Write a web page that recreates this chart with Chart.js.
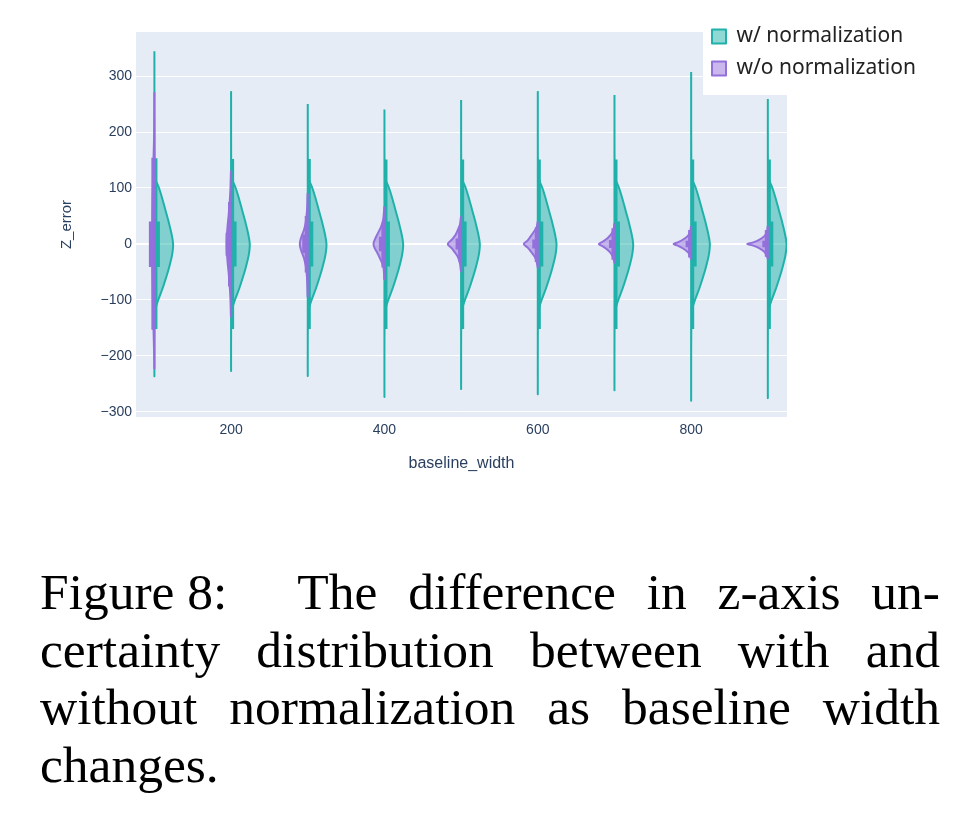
<!DOCTYPE html>
<html>
<head>
<meta charset="utf-8">
<script src="https://cdn.jsdelivr.net/npm/chart.js@4.4.1/dist/chart.umd.min.js"></script>
<style>
html,body{margin:0;padding:0;background:#fff;}
#wrap{position:relative;width:974px;height:816px;overflow:hidden;}
#c{position:absolute;left:0;top:0;}
.cap{position:absolute;left:40px;width:900px;font-family:"Liberation Serif","DejaVu Serif",serif;font-size:51.5px;line-height:57.7px;color:#000;}
.j{text-align:justify;text-align-last:justify;}
.nb{display:inline-block;}
</style>
</head>
<body>
<div id="wrap">
<canvas id="c" width="974" height="520"></canvas>
<div class="cap j" style="top:563px"><span class="nb">Figure&nbsp;8:</span><span class="nb" style="width:40px"></span> The difference in z-axis un-</div>
<div class="cap j" style="top:621px">certainty distribution between with and</div>
<div class="cap j" style="top:678px">without normalization as baseline width</div>
<div class="cap" style="top:736px">changes.</div>
</div>
<script>
// ---------- data ----------
const baselineWidths = [100, 200, 300, 400, 500, 600, 700, 800, 900];
const seriesNames = ['w/ normalization', 'w/o normalization'];
const xTickValues = [200, 400, 600, 800];
const yTickValues = [-300, -200, -100, 0, 100, 200, 300];
const xTitle = 'baseline_width';
const yTitle = 'Z_error';

// w/ normalization (right half of each violin)
const withMax   = [344, 273, 250, 240, 257, 273, 266, 307, 259];
const withUpper = [153, 152, 152, 151, 151, 151, 151, 151, 151];
const withQ3    = [40, 40, 40, 40, 40, 40, 40, 40, 40];
const withQ1    = [-41, -40, -40, -40, -40, -40, -40, -40, -40];
const withLower = [-152, -152, -152, -152, -152, -152, -152, -152, -152];
const withMin   = [-232, -223, -232, -269, -255, -264, -257, -275, -271];
const withKdeZ  = [125, 115, 100, 80, 60, 40, 20, 0, -20, -40, -60, -80, -100, -115, -125];
const withKdeW  = [0.3, 1.5, 6, 10.5, 14.5, 18.5, 22, 24.4, 23, 19.5, 15.3, 10.5, 5, 1.5, 0.3];

// w/o normalization (left half of each violin)
const withoutMax   = [271, 131, 90, 66, 49, 40, 36, 31, 32];
const withoutUpper = [154, 75, 50, 38, 31, 30, 28, 25, 25];
const withoutQ3    = [40, 20, 17, 13, 10, 8, 7, 6, 6];
const withoutQ1    = [-41, -21, -16, -13, -10, -8, -7, -6, -6];
const withoutLower = [-153, -76, -51, -42, -31, -32, -28, -24, -23];
const withoutMin   = [-221, -130, -94, -63, -49, -42, -33, -27, -26];
const withoutKdeZ = [
  [200, 150, 100, 50, 0, -50, -100, -150, -200],
  [130, 100, 75, 50, 25, 0, -25, -50, -75, -100, -130],
  [90, 60, 40, 25, 12, 0, -12, -25, -40, -60, -94],
  [66, 45, 31, 19, 8, 0, -8, -14, -26, -40, -63],
  [49, 35, 25, 16, 8, 0, -8, -14, -23, -35, -49],
  [40, 30, 24, 13, 6, 0, -6, -11, -23, -32, -42],
  [36, 26, 18, 10, 4, 0, -4, -10, -18, -26, -33],
  [31, 22, 15, 8, 3, 0, -3, -8, -15, -22, -27],
  [32, 22, 14, 7, 2.5, 0, -2.5, -7, -14, -22, -26]
];
const withoutKdeW = [
  [0.3, 1.2, 2, 2.6, 2.8, 2.6, 2, 1.2, 0.3],
  [0.2, 0.8, 1.8, 3.3, 5, 5.8, 5, 3.3, 1.8, 0.8, 0.2],
  [0.2, 1, 2.5, 5, 8.5, 10.4, 8.5, 5, 2.5, 1, 0.2],
  [0.2, 1.5, 4.3, 8.7, 12.5, 14.3, 12.5, 10, 5.7, 1.5, 0.2],
  [0.2, 1.5, 4.3, 7.4, 12, 17.4, 12, 8.7, 4.3, 1.5, 0.2],
  [0.2, 1.5, 4, 9.6, 13.5, 18.3, 13.5, 10.4, 4, 1.5, 0.2],
  [0.2, 1.2, 4, 9.5, 15.5, 20.4, 15.5, 9.5, 4, 1.2, 0.2],
  [0.2, 1.2, 4, 10.5, 17.5, 23, 17.5, 10.5, 4, 1.2, 0.2],
  [0.2, 1.2, 4.5, 12, 20, 27, 20, 12, 4.5, 1.2, 0.2]
];

// ---------- styles ----------
const TEAL = '#20B2AA', TEAL_FILL = 'rgba(32,178,170,0.5)';
const PURPLE = '#9370DB', PURPLE_FILL = 'rgba(147,112,219,0.5)';
const WHISKER_OFF = 2.0, BOX_OFF = 3.6;   // x-offsets (axis units) of the inner box pieces
const TICK_COLOR = '#2a3f5f';

function violinData(c, side, zs, ws, top, bottom) {
  const pts = [{x: c, y: top}];
  zs.forEach((z, i) => pts.push({x: c + side * ws[i], y: z}));
  pts.push({x: c, y: bottom});
  pts.push({x: c, y: top});
  return pts;
}
function segData(side, off, lo, hi) {
  const pts = [];
  baselineWidths.forEach((c, i) => {
    pts.push({x: c + side * off, y: lo[i]}, {x: c + side * off, y: hi[i]}, {x: null, y: null});
  });
  return pts;
}
function violinDs(label, data, color, fillColor, order) {
  return {label, data, showLine: true, borderColor: color, backgroundColor: fillColor,
    borderWidth: 2, tension: 0.35, pointRadius: 0, fill: false, violinFill: true,
    borderJoinStyle: 'round', order};
}
function segDs(data, color, fillColor, width, order) {
  return {label: '', data, showLine: true, borderColor: color, backgroundColor: fillColor,
    borderWidth: width, tension: 0, pointRadius: 0, fill: false, borderCapStyle: 'butt',
    spanGaps: false, order};
}

const datasets = [];
datasets.push(violinDs(seriesNames[0], violinData(baselineWidths[0], 1, withKdeZ, withKdeW, withMax[0], withMin[0]), TEAL, TEAL_FILL, 30));
datasets.push(violinDs(seriesNames[1], violinData(baselineWidths[0], -1, withoutKdeZ[0], withoutKdeW[0], withoutMax[0], withoutMin[0]), PURPLE, PURPLE_FILL, 20));
for (let i = 1; i < baselineWidths.length; i++) {
  datasets.push(violinDs(seriesNames[0], violinData(baselineWidths[i], 1, withKdeZ, withKdeW, withMax[i], withMin[i]), TEAL, TEAL_FILL, 30));
  datasets.push(violinDs(seriesNames[1], violinData(baselineWidths[i], -1, withoutKdeZ[i], withoutKdeW[i], withoutMax[i], withoutMin[i]), PURPLE, PURPLE_FILL, 20));
}
datasets.push(segDs(segData(1, WHISKER_OFF, withLower, withUpper), TEAL, TEAL, 3, 29));
datasets.push(segDs(segData(1, BOX_OFF, withQ1, withQ3), TEAL, TEAL, 5.5, 28));
datasets.push(segDs(segData(-1, WHISKER_OFF, withoutLower, withoutUpper), PURPLE, PURPLE, 3, 19));
datasets.push(segDs(segData(-1, BOX_OFF, withoutQ1, withoutQ3), PURPLE, PURPLE, 5.5, 18));

// ---------- plugins ----------
const plotBg = {
  id: 'plotBg',
  beforeDraw(chart) {
    const a = chart.chartArea, ctx = chart.ctx;
    ctx.save(); ctx.fillStyle = '#E5ECF6';
    ctx.fillRect(a.left, a.top, a.right - a.left, a.bottom - a.top);
    ctx.restore();
  }
};
const violinFill = {
  id: 'violinFill',
  afterDatasetDraw(chart, args) {
    const ds = chart.data.datasets[args.index];
    if (!ds.violinFill) return;
    const pts = args.meta.data, ctx = chart.ctx, a = chart.chartArea;
    ctx.save();
    ctx.beginPath(); ctx.rect(a.left, a.top, a.right - a.left, a.bottom - a.top); ctx.clip();
    ctx.beginPath();
    pts.forEach((p, i) => {
      if (i === 0) { ctx.moveTo(p.x, p.y); return; }
      const q = pts[i - 1];
      if (q.cp2x !== undefined && p.cp1x !== undefined && isFinite(q.cp2x) && isFinite(p.cp1x)) {
        ctx.bezierCurveTo(q.cp2x, q.cp2y, p.cp1x, p.cp1y, p.x, p.y);
      } else {
        ctx.lineTo(p.x, p.y);
      }
    });
    ctx.closePath();
    ctx.fillStyle = ds.backgroundColor;
    ctx.fill();
    ctx.restore();
  }
};
const legendPlace = {
  id: 'legendPlace',
  afterLayout(chart) {
    const lg = chart.legend;
    if (!lg) return;
    lg.left = 701; lg.top = 15;
    lg.right = lg.left + lg.width; lg.bottom = lg.top + lg.height;
  },
  afterDatasetsDraw(chart) {
    const lg = chart.legend, ctx = chart.ctx;
    ctx.save(); ctx.fillStyle = '#ffffff';
    ctx.fillRect(lg.left + 2, lg.top + 7, 222, 73);
    ctx.restore();
    lg.draw(chart.chartArea);
  }
};

// ---------- chart ----------
new Chart(document.getElementById('c'), {
  type: 'scatter',
  data: {datasets},
  plugins: [plotBg, violinFill, legendPlace],
  options: {
    responsive: false,
    animation: false,
    events: [],
    devicePixelRatio: 1,
    layout: {padding: {left: 0, right: 187, top: 32, bottom: 0}},
    elements: {point: {radius: 0}},
    plugins: {
      tooltip: {enabled: false},
      legend: {
        position: 'chartArea',
        align: 'start',
        labels: {
          boxWidth: 14, boxHeight: 14, padding: 11,
          color: '#222',
          font: {family: '"Noto Sans", "Open Sans", sans-serif', size: 21},
          filter: (item) => item.datasetIndex < 2,
          sort: (a, b) => a.datasetIndex - b.datasetIndex
        }
      }
    },
    scales: {
      x: {
        type: 'linear', position: 'bottom',
        min: 76, max: 925,
        afterBuildTicks: (s) => { s.ticks = xTickValues.map(v => ({value: v})); },
        afterFit: (s) => { s.height = 103; },
        grid: {display: false},
        border: {display: false},
        ticks: {color: TICK_COLOR, padding: -3, font: {family: '"Liberation Sans", Arial, sans-serif', size: 14}, maxRotation: 0},
        title: {display: true, text: xTitle, color: TICK_COLOR, padding: {top: 0, bottom: 47},
          font: {family: '"Liberation Sans", Arial, sans-serif', size: 16}}
      },
      y: {
        type: 'linear', position: 'left',
        min: -309, max: 378.6,
        afterBuildTicks: (s) => { s.ticks = yTickValues.map(v => ({value: v})); },
        afterFit: (s) => { s.width = 136; },
        grid: {color: '#ffffff', lineWidth: (ctx) => (ctx.tick && ctx.tick.value === 0 ? 2 : 1), drawTicks: false},
        border: {display: false},
        ticks: {color: TICK_COLOR, padding: 4, font: {family: '"Liberation Sans", Arial, sans-serif', size: 14},
          callback: (v) => (v < 0 ? '\u2212' + Math.abs(v) : String(v))},
        title: {display: true, text: yTitle, color: TICK_COLOR, padding: {top: 58, bottom: 0},
          font: {family: '"Liberation Sans", Arial, sans-serif', size: 15}}
      }
    }
  }
});
</script>
</body>
</html>
